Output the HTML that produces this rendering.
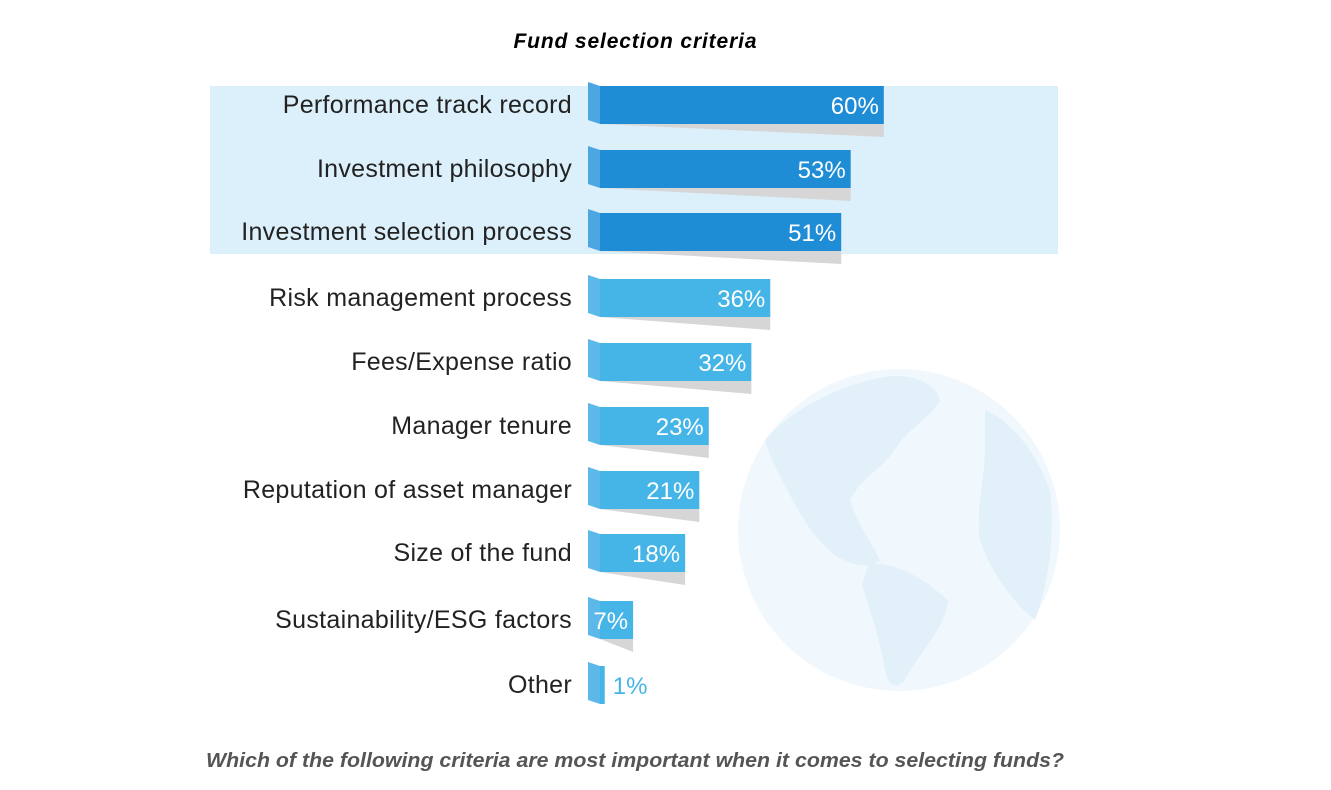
<!DOCTYPE html>
<html><head><meta charset="utf-8"><style>
html,body{margin:0;padding:0;background:#fff;width:1331px;height:790px;overflow:hidden}
svg{display:block}
</style></head><body>
<svg id="c" width="1331" height="790" xmlns="http://www.w3.org/2000/svg">
  <rect x="210" y="86" width="848" height="168" fill="#dcf0fb"/>
  <g>
    <circle cx="899" cy="530" r="161" fill="#f1f8fd"/>
    <path d="M765 440 C790 410 840 385 880 378 C905 372 935 380 940 400 C930 420 905 430 895 450 C880 470 860 480 850 500 C855 520 870 540 880 560 C870 570 850 565 835 555 C815 540 800 515 790 495 C780 475 770 460 765 440Z" fill="#e1f0f9"/>
    <path d="M868 565 C890 560 920 575 948 600 C945 630 920 650 905 680 C895 690 888 685 885 670 C880 640 870 610 862 585Z" fill="#e1f0f9"/>
    <path d="M985 410 C1010 420 1035 450 1050 490 C1055 530 1050 580 1035 620 C1010 600 990 570 980 540 C975 510 985 480 985 450Z" fill="#e1f0f9"/>
  </g>
  <text x="635" y="48" text-anchor="middle" font-family="'Liberation Sans',sans-serif" font-size="21" font-weight="bold" font-style="italic" fill="#000" textLength="243">Fund selection criteria</text>
  <g id="bars"></g>
  <text x="635" y="767" text-anchor="middle" font-family="'Liberation Sans',sans-serif" font-size="20" font-weight="bold" font-style="italic" fill="#555" textLength="858" lengthAdjust="spacingAndGlyphs">Which of the following criteria are most important when it comes to selecting funds?</text>
</svg>
<script>
const categories = ["Performance track record","Investment philosophy","Investment selection process","Risk management process","Fees/Expense ratio","Manager tenure","Reputation of asset manager","Size of the fund","Sustainability/ESG factors","Other"];
const values = [60,53,51,36,32,23,21,18,7,1];
const highlighted = [true,true,true,false,false,false,false,false,false,false];
const rowCenters = [105,169,232,298,362,426,490,553,620,685];

const NS = "http://www.w3.org/2000/svg";
const x0 = 600, k = 4.73;
function xScale(v){ return x0 + v * k; }
const g = document.getElementById('bars');
function mk(tag, attrs){ const e = document.createElementNS(NS, tag); for (const a in attrs) e.setAttribute(a, attrs[a]); return e; }

categories.forEach((cat, i) => {
  const cy = rowCenters[i], v = values[i], h = 38;
  const top = cy - h/2, bot = cy + h/2;
  const xe = xScale(v);
  const dark = highlighted[i];
  const main = dark ? "#1f8dd5" : "#45b5e7";
  const fold = dark ? "#4ba6e2" : "#5cb8e8";
  const grp = mk('g', {});
  
  
  if (v > 2) {
    const sh = mk('path', {d: `M${x0} ${bot} L${xe} ${bot} L${xe} ${bot+13} Z`, fill: "#d6d6d6"});
    
    
    grp.appendChild(sh);
  }
  const fw = 12;
  const f = mk('path', {d: `M${x0-fw} ${top-4} L${x0} ${top} L${x0} ${bot} L${x0-fw} ${bot-4} Z`, fill: fold});
  
  
  grp.appendChild(f);
  const r = mk('rect', {x: x0, y: top, width: Math.max(0, xe - x0), height: h, fill: main});
  
  
  grp.appendChild(r);
  const t = mk('text', {x: 572, y: cy + 8, 'text-anchor': 'end', 'font-family': "'Liberation Sans',sans-serif", 'font-size': 25, fill: '#222', 'letter-spacing': '0.3'});
  t.textContent = cat;
  
  
  grp.appendChild(t);
  const inside = v > 5;
  const vl = mk('text', {x: inside ? xe - 5 : xe + 8, y: cy + 9, 'text-anchor': inside ? 'end' : 'start', 'font-family': "'Liberation Sans',sans-serif", 'font-size': 24, fill: inside ? '#fff' : '#45b5e7'});
  vl.textContent = v + '%';
  
  
  grp.appendChild(vl);
  g.appendChild(grp);
});
</script>
</body></html>
